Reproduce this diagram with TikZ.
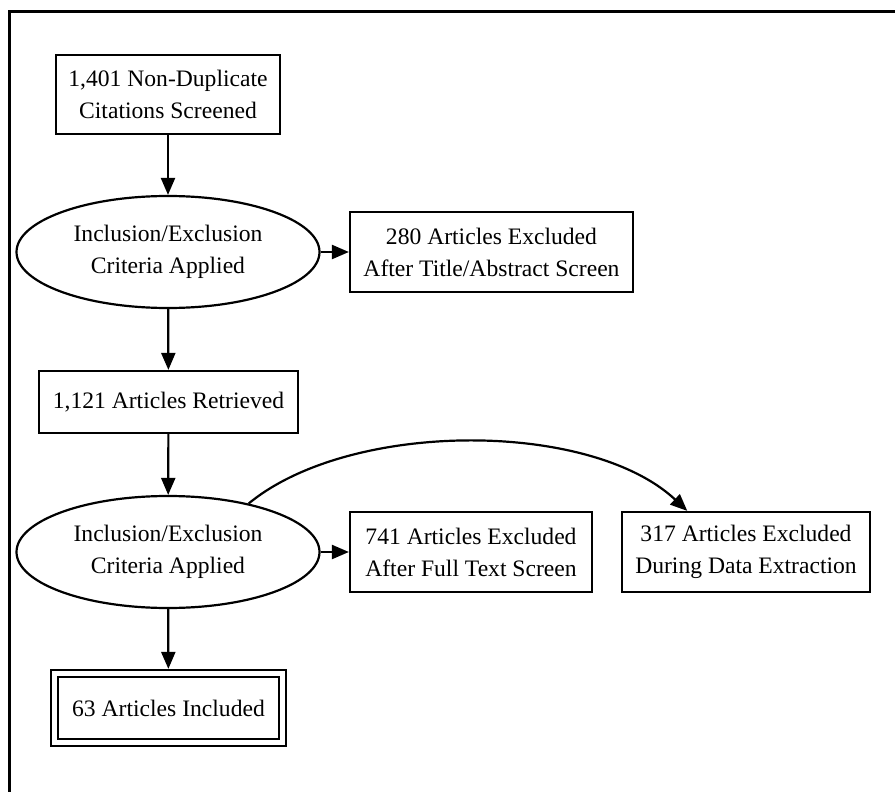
\documentclass[tikz,border=0pt]{standalone}
\usepackage{fontspec}
\setmainfont{Liberation Serif}
\usetikzlibrary{arrows.meta,shapes.geometric}

\begin{document}
\begin{tikzpicture}[x=0.5pt,y=-0.5pt,>={Triangle[length=8.5pt,width=7pt]},line width=1.1pt]
\tikzstyle{block}=[draw, rectangle, align=center, inner sep=0pt, font=\fontsize{11.8}{16}\selectfont]
\tikzstyle{crit}=[draw, ellipse, align=center, inner sep=0pt, minimum width=151.5pt, minimum height=56pt, font=\fontsize{11.8}{16}\selectfont]

\useasboundingbox (0,0) rectangle (895,792);

% frame
\draw[line width=1.5pt] (895,12) -- (9,12) -- (9,792);

% screening stage
\node[block, minimum width=112pt, minimum height=39.5pt] (screened) at (168,94.5) {1,401 Non-Duplicate\\Citations Screened};
\node[crit] (crit1) at (168,252) {Inclusion/Exclusion\\Criteria Applied};
\node[block, minimum width=141.5pt, minimum height=40pt] (titleexcl) at (491.5,252) {280 Articles Excluded\\After Title/Abstract Screen};

% full text stage
\node[block, minimum width=129.5pt, minimum height=31pt] (retrieved) at (168.5,402) {1,121 Articles Retrieved};
\node[crit] (crit2) at (168,552) {Inclusion/Exclusion\\Criteria Applied};
\node[block, minimum width=121pt, minimum height=40pt] (fullexcl) at (471,552) {741 Articles Excluded\\After Full Text Screen};
\node[block, minimum width=124pt, minimum height=40pt] (dataexcl) at (746,552) {317 Articles Excluded\\During Data Extraction};

% result
\node[block, double, double distance=2.5pt, outer sep=2.3pt, minimum width=114pt, minimum height=34.5pt] (included) at (168.5,708) {63 Articles Included};

% arrows
\draw[->] (screened) -- (crit1);
\draw[->] (crit1) -- (titleexcl);
\draw[->] (crit1) -- (retrieved);
\draw[->] (retrieved) -- (crit2);
\draw[->] (crit2) -- (fullexcl);
\draw[->] (crit2) -- (included);
\draw[->] (crit2.31) .. controls (350,420) and (590,420) .. (dataexcl.145);

\end{tikzpicture}
\end{document}
